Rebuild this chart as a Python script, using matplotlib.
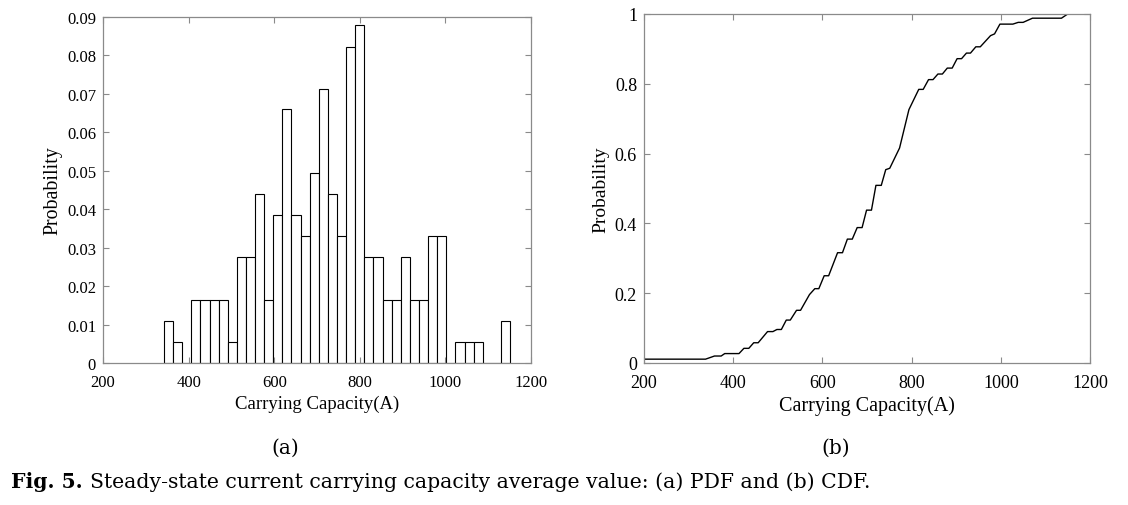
import matplotlib
matplotlib.use("Agg")
import matplotlib.pyplot as plt
import numpy as np

plt.rcParams['font.family'] = ['Liberation Serif', 'DejaVu Serif']

# (a) histogram: probability per bin, bins start at 342.5 A, ~21.3 A wide
bin_start = 342.5
bin_width = 21.28
pdf_prob = [0.011, 0.0055, 0.0, 0.0165, 0.0165, 0.0165, 0.0165, 0.0055,
            0.0276, 0.0276, 0.0439, 0.0165, 0.0384, 0.066, 0.0384, 0.033,
            0.0495, 0.0714, 0.0439, 0.033, 0.0823, 0.088, 0.0276, 0.0276,
            0.0165, 0.0165, 0.0276, 0.0165, 0.0165, 0.033, 0.033, 0.0,
            0.0055, 0.0055, 0.0055, 0.0, 0.0, 0.011]

# (b) CDF
cdf_x = [200, 338, 358, 373, 381, 413, 424, 435, 446, 456, 477, 489, 498, 508,
         519, 528, 542, 551, 571, 583, 592, 604, 614, 634, 645, 656, 667, 678,
         689, 699, 710, 720, 732, 742, 751, 773, 794, 816, 826, 838, 848, 859,
         869, 880, 891, 902, 912, 923, 932, 944, 954, 977, 986, 998, 1027,
         1039, 1050, 1071, 1136, 1150]
cdf_y = [0.011, 0.011, 0.020, 0.020, 0.027, 0.027, 0.042, 0.042, 0.058, 0.058,
         0.090, 0.090, 0.096, 0.096, 0.123, 0.123, 0.151, 0.151, 0.196, 0.213,
         0.213, 0.250, 0.250, 0.316, 0.316, 0.355, 0.355, 0.388, 0.388, 0.438,
         0.438, 0.509, 0.509, 0.554, 0.558, 0.616, 0.726, 0.784, 0.784, 0.812,
         0.812, 0.828, 0.828, 0.845, 0.845, 0.872, 0.872, 0.888, 0.888, 0.906,
         0.906, 0.938, 0.943, 0.971, 0.971, 0.976, 0.976, 0.988, 0.988, 1.0]

pdf_ticks = [0, 0.01, 0.02, 0.03, 0.04, 0.05, 0.06, 0.07, 0.08, 0.09]
pdf_labels = ['0', '0.01', '0.02', '0.03', '0.04', '0.05', '0.06', '0.07', '0.08', '0.09']
cdf_ticks = [0, 0.2, 0.4, 0.6, 0.8, 1.0]
cdf_labels = ['0', '0.2', '0.4', '0.6', '0.8', '1']
x_ticks = [200, 400, 600, 800, 1000, 1200]

frame_col = '#8a8a8a'
cap_font = ['DejaVu Serif']

fig = plt.figure(figsize=(11.28, 5.06), dpi=100)
W, H = 1128, 506


def px_axes(left, top, right, bottom):
    return fig.add_axes([left / W, 1 - bottom / H, (right - left) / W, (bottom - top) / H])


def style_axes(ax, size):
    for s in ax.spines.values():
        s.set_color(frame_col)
        s.set_linewidth(0.9)
    ax.tick_params(direction='in', length=4, width=0.8, color=frame_col,
                   top=True, right=True, labelsize=size)
    ax.tick_params(axis='x', pad=8)
    ax.tick_params(axis='y', pad=5)
    ax.set_xlim(200, 1200)
    ax.set_xticks(x_ticks)
    ax.set_xticklabels([str(t) for t in x_ticks])


# --- (a) PDF ---
ax1 = px_axes(103, 18, 531, 364)
centers = [bin_start + bin_width * (i + 0.5) for i in range(len(pdf_prob))]
ax1.bar(centers, pdf_prob, width=bin_width, facecolor='white',
        edgecolor='black', linewidth=0.8)
ax1.set_ylim(0, 0.09)
ax1.set_yticks(pdf_ticks)
ax1.set_yticklabels(pdf_labels)
style_axes(ax1, 12)
ax1.set_xlabel('Carrying Capacity(A)', fontsize=13.5, labelpad=3)
ax1.set_ylabel('Probability', fontsize=14.3, labelpad=3)

# --- (b) CDF ---
ax2 = px_axes(644, 15, 1090, 364)
ax2.plot(cdf_x, cdf_y, color='black', linewidth=1.0)
ax2.set_ylim(0, 1)
ax2.set_yticks(cdf_ticks)
ax2.set_yticklabels(cdf_labels)
style_axes(ax2, 13)
ax2.set_xlabel('Carrying Capacity(A)', fontsize=14.5, labelpad=3)
ax2.set_ylabel('Probability', fontsize=14, labelpad=4)

# sub-figure labels and caption
fig.text(285 / W, 1 - 448 / H, '(a)', ha='center', va='center', fontsize=14.5,
         family=cap_font)
fig.text(836 / W, 1 - 448 / H, '(b)', ha='center', va='center', fontsize=14.5,
         family=cap_font)
cap = fig.text(11 / W, 1 - 488 / H, 'Fig. 5.', ha='left', va='baseline',
               fontsize=14.7, fontweight='bold', family=cap_font)
fig.canvas.draw()
bb = cap.get_window_extent()
fig.text((bb.x1 + 7) / W, 1 - 488 / H,
         'Steady-state current carrying capacity average value: (a) PDF and (b) CDF.',
         ha='left', va='baseline', fontsize=14.7, family=cap_font)

fig.savefig('out.png', dpi=100)
